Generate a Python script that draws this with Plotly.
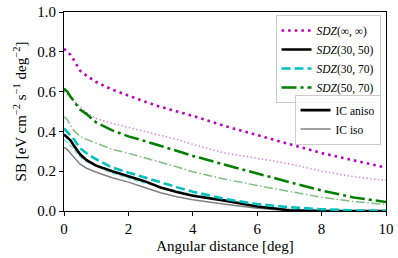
import plotly.graph_objects as go

# Angular distance grid [deg]
x_deg = [0, 0.1, 0.2, 0.3, 0.4, 0.5, 0.7, 1, 1.5, 2, 2.5, 3, 3.5, 4, 5, 6, 7, 8, 9, 10]

# SDZ(inf, inf)
sdz_inf_aniso = [0.815, 0.80, 0.785, 0.76, 0.73, 0.705, 0.68, 0.648, 0.61, 0.578, 0.55, 0.523, 0.50, 0.478, 0.427, 0.38, 0.336, 0.291, 0.253, 0.218]
sdz_inf_iso = [0.60, 0.585, 0.568, 0.55, 0.535, 0.52, 0.495, 0.465, 0.44, 0.42, 0.40, 0.383, 0.36, 0.335, 0.291, 0.265, 0.237, 0.20, 0.172, 0.154]
# SDZ(30, 50)
sdz_3050_aniso = [0.385, 0.37, 0.355, 0.33, 0.305, 0.285, 0.255, 0.228, 0.20, 0.175, 0.15, 0.118, 0.095, 0.077, 0.052, 0.023, 0.004, 0.0, 0.0, 0.0]
sdz_3050_iso = [0.32, 0.31, 0.29, 0.27, 0.25, 0.235, 0.215, 0.195, 0.167, 0.145, 0.118, 0.092, 0.072, 0.056, 0.034, 0.014, 0.002, 0.0, 0.0, 0.0]
# SDZ(30, 70)
sdz_3070_aniso = [0.415, 0.40, 0.38, 0.362, 0.338, 0.315, 0.29, 0.26, 0.218, 0.193, 0.167, 0.145, 0.12, 0.097, 0.06, 0.035, 0.019, 0.009, 0.003, 0.001]
sdz_3070_iso = [0.36, 0.345, 0.33, 0.312, 0.29, 0.272, 0.25, 0.225, 0.19, 0.165, 0.14, 0.12, 0.10, 0.083, 0.05, 0.025, 0.01, 0.003, 0.001, 0.0]
# SDZ(50, 70)
sdz_5070_aniso = [0.615, 0.60, 0.575, 0.552, 0.528, 0.51, 0.487, 0.445, 0.405, 0.375, 0.352, 0.327, 0.30, 0.277, 0.232, 0.187, 0.145, 0.103, 0.068, 0.045]
sdz_5070_iso = [0.475, 0.46, 0.43, 0.405, 0.39, 0.375, 0.36, 0.34, 0.31, 0.29, 0.268, 0.243, 0.222, 0.197, 0.16, 0.128, 0.097, 0.069, 0.047, 0.033]

series_names = ["<i>SDZ</i>(∞, ∞)", "<i>SDZ</i>(30, 50)", "<i>SDZ</i>(30, 70)", "<i>SDZ</i>(50, 70)"]
x_ticks = [0, 2, 4, 6, 8, 10]
y_ticks = [0.0, 0.2, 0.4, 0.6, 0.8, 1.0]

FONT = "Liberation Serif"

fig = go.Figure()

# thin "iso" versions (alpha 0.5, thinner)
iso_specs = [
    (sdz_inf_iso, "rgba(191,0,191,0.5)", "1.4px,2.4px"),
    (sdz_3050_iso, "rgba(128,128,128,1)", "solid"),
    (sdz_3070_iso, "rgba(0,191,191,0.5)", "5px,2.5px"),
    (sdz_5070_iso, "rgba(0,128,0,0.5)", "9px,2.5px,1.5px,2.5px"),
]
for vals, col, dash in iso_specs:
    fig.add_trace(go.Scatter(x=x_deg, y=vals, mode="lines", showlegend=False,
                             line=dict(color=col, width=1.5, dash=dash), hoverinfo="skip"))

aniso_specs = [
    (sdz_inf_aniso, "#bf00bf", "2.6px,4px", series_names[0]),
    (sdz_3050_aniso, "#000000", "solid", series_names[1]),
    (sdz_3070_aniso, "#00bfbf", "9px,4px", series_names[2]),
    (sdz_5070_aniso, "#008000", "15px,4px,3px,4px", series_names[3]),
]
for vals, col, dash, name in aniso_specs:
    fig.add_trace(go.Scatter(x=x_deg, y=vals, mode="lines", name=name, legend="legend",
                             line=dict(color=col, width=2.6, dash=dash)))

# legend-only entries for IC models
fig.add_trace(go.Scatter(x=[None], y=[None], mode="lines", name="IC aniso", legend="legend2",
                         line=dict(color="black", width=2.6)))
fig.add_trace(go.Scatter(x=[None], y=[None], mode="lines", name="IC iso", legend="legend2",
                         line=dict(color="gray", width=1.5)))

axis_common = dict(showline=True, linecolor="black", linewidth=1.2, mirror=True,
                   ticks="outside", ticklen=4, tickwidth=1, tickcolor="black",
                   showgrid=False, zeroline=False, automargin=False,
                   tickfont=dict(family=FONT, size=15, color="black"))

fig.update_layout(
    width=398, height=258,
    margin=dict(l=64, r=12, t=12, b=47),
    paper_bgcolor="white", plot_bgcolor="white",
    font=dict(family=FONT, size=15, color="black"),
    xaxis=dict(range=[0, 10], tickvals=x_ticks, ticktext=[str(t) for t in x_ticks],
               title=dict(text="Angular distance [deg]", font=dict(family=FONT, size=15), standoff=4),
               **axis_common),
    yaxis=dict(range=[0, 1], tickvals=y_ticks, ticktext=[f"{t:.1f}" for t in y_ticks],
               title=dict(text="SB [eV cm<sup>−2</sup> s<sup>−1</sup> deg<sup>−2</sup>]",
                          font=dict(family=FONT, size=15), standoff=6),
               **axis_common),
    legend=dict(x=0.983, y=0.985, xanchor="right", yanchor="top",
                bgcolor="rgba(255,255,255,0.8)", bordercolor="#cccccc", borderwidth=1,
                font=dict(family=FONT, size=11.5, color="black"), tracegroupgap=0),
    legend2=dict(x=0.983, y=0.585, xanchor="right", yanchor="top",
                 bgcolor="rgba(255,255,255,0.8)", bordercolor="#cccccc", borderwidth=1,
                 font=dict(family=FONT, size=11.5, color="black"), tracegroupgap=0),
)

# remove the browser's default body margin so the figure fills the window exactly
fig.write_html("out.html", config={"displayModeBar": False},
               post_script="document.body.style.margin='0';")
